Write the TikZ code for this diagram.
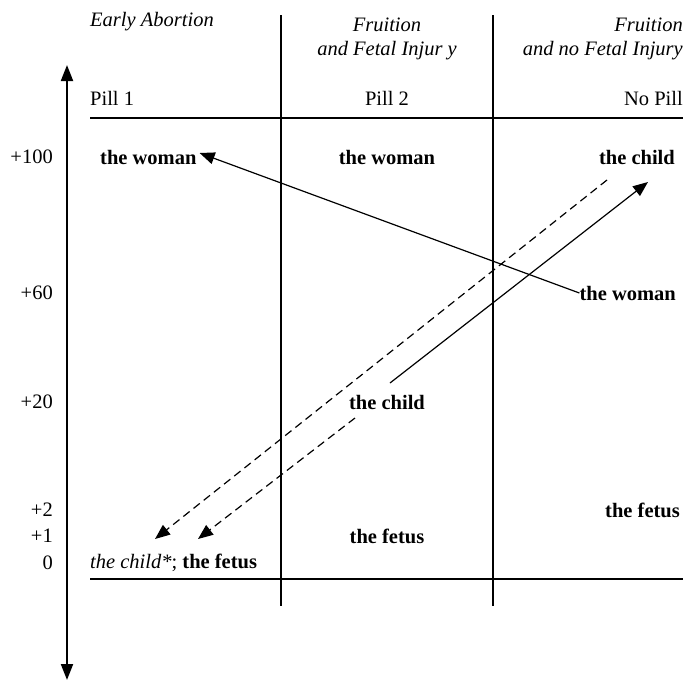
\documentclass[tikz,border=0pt]{standalone}
\usepackage{fontspec}
\setmainfont{Liberation Serif}
\usetikzlibrary{arrows.meta}
\begin{document}
\begin{tikzpicture}[x=1pt,y=-1pt,
  every node/.style={inner sep=0pt,font=\fontsize{20.5}{24}\selectfont},
  lbl/.style={font=\fontsize{20.5}{24}\selectfont\bfseries},
  hdr/.style={font=\fontsize{20.5}{24}\selectfont\itshape,align=center},
  axlbl/.style={anchor=east},
  rule/.style={line width=1.4pt},
  col/.style={line width=1.1pt},
  tip/.style={-{Triangle[length=15pt,width=12pt]}},
  conn/.style={line width=1.2pt,tip},
  dconn/.style={line width=1.2pt,tip,dash pattern=on 8pt off 5pt}]
\useasboundingbox (0,0) rectangle (683,681);
% axis
\coordinate (axT) at (67,65);
\coordinate (axB) at (67,680);
\draw[line width=2pt,{Triangle[length=16pt,width=12pt]}-{Triangle[length=16pt,width=12pt]}] (axT) -- (axB);
% rules
\coordinate (t1) at (90,118); \coordinate (t2) at (683,118);
\coordinate (b1) at (90,579); \coordinate (b2) at (683,579);
\draw[rule] (t1) -- (t2);
\draw[rule] (b1) -- (b2);
\coordinate (v1a) at (281,15); \coordinate (v1b) at (281,606);
\coordinate (v2a) at (493,15); \coordinate (v2b) at (493,606);
\draw[col] (v1a) -- (v1b);
\draw[col] (v2a) -- (v2b);
% headers
\node[hdr,anchor=west] (h1) at (90,22) {Early Abortion};
\node[hdr] (h2a) at (387,25) {Fruition};
\node[hdr] (h2b) at (387,51) {and Fetal Injur y};
\node[hdr,anchor=east] (h3a) at (683,25) {Fruition};
\node[hdr,anchor=east] (h3b) at (683,51) {and no Fetal Injury};
\node[anchor=west] (p1) at (90,98) {Pill 1};
\node (p2) at (387,98) {Pill 2};
\node[anchor=east] (p3) at (683,98) {No Pill};
% axis labels
\node[axlbl] (a100) at (53,157) {+100};
\node[axlbl] (a60) at (53,293) {+60};
\node[axlbl] (a20) at (53,402) {+20};
\node[axlbl] (a2) at (53,510) {+2};
\node[axlbl] (a1) at (53,536) {+1};
\node[axlbl] (a0) at (53,563) {0};
% cells
\node[lbl,anchor=west] (w1) at (100,157) {the woman};
\node[lbl] (w2) at (387,157) {the woman};
\node[lbl,anchor=east] (c3) at (675,157) {the child};
\node[lbl,anchor=east] (w3) at (676,293) {the woman};
\node[lbl] (c2) at (387,402) {the child};
\node[lbl,anchor=east] (f3) at (680,510) {the fetus};
\node[lbl] (f2) at (387,536) {the fetus};
\node[anchor=west] (z1) at (90,563) {\itshape the child*\upshape; \bfseries the fetus};
% connectors
\draw[conn] (w3.west) -- ([xshift=3pt,yshift=4pt]w1.east);
\coordinate (cs) at (390,383);
\coordinate (ce) at (648,182);
\draw[conn] (cs) -- (ce);
\coordinate (d1s) at (607,180);
\coordinate (d1e) at (155,539);
\draw[dconn] (d1s) -- (d1e);
\coordinate (d2s) at (355,418);
\coordinate (d2e) at (198,539);
\draw[dconn] (d2s) -- (d2e);
\end{tikzpicture}
\end{document}
